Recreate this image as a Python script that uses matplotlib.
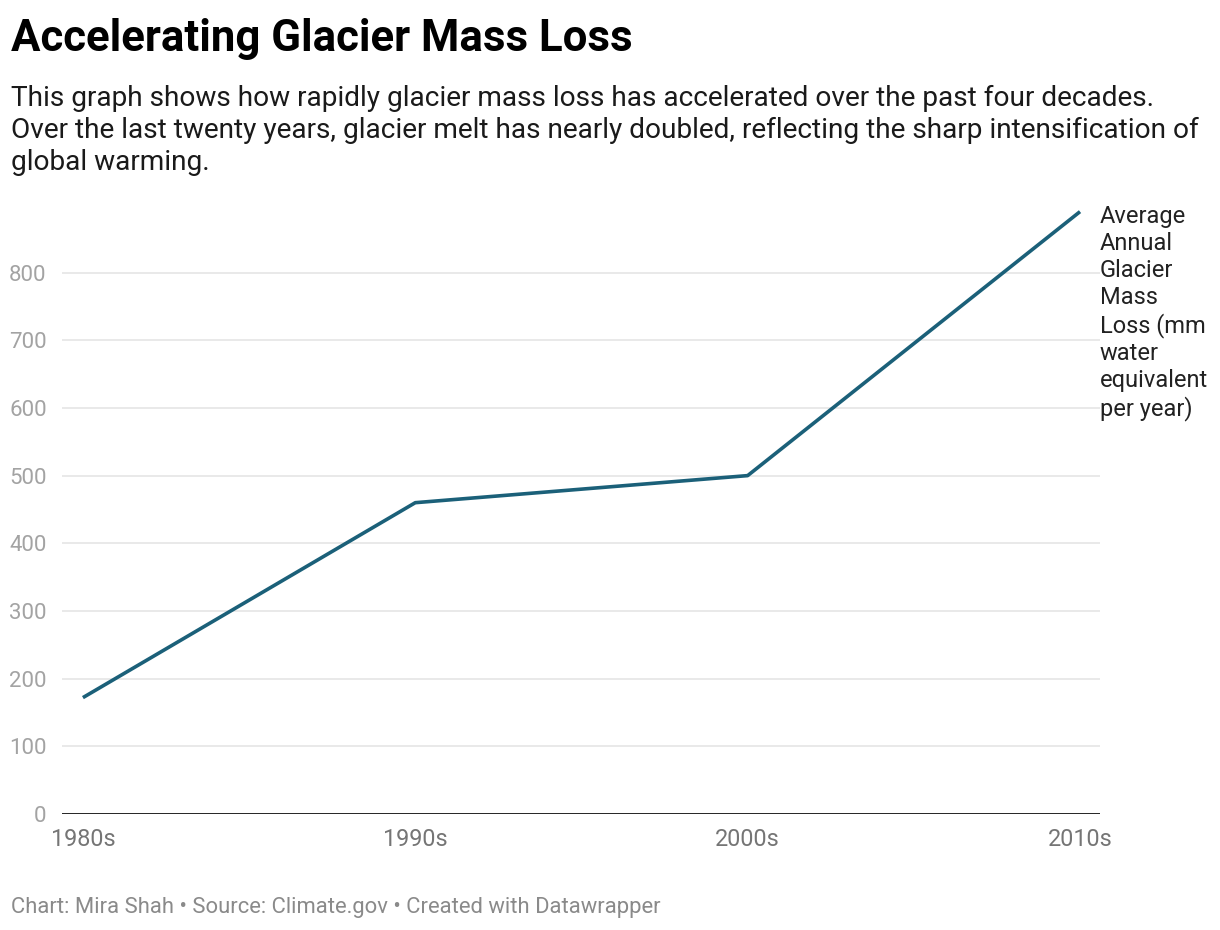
import matplotlib.pyplot as plt

plt.rcParams['font.family'] = ['Roboto', 'DejaVu Sans']

decades = ["1980s", "1990s", "2000s", "2010s"]
mass_loss = [172, 460, 500, 890]
y_ticks = [0, 100, 200, 300, 400, 500, 600, 700, 800]

line_color = "#1b6079"

fig = plt.figure(figsize=(12.2, 9.3), dpi=100)
ax = fig.add_axes([0.0508, 0.1247, 0.8508, 0.655])

x = list(range(len(decades)))
ax.plot(x, mass_loss, color=line_color, linewidth=2.6, solid_capstyle='butt', zorder=3)

ax.set_xlim(-0.063, 3.06)
ax.set_ylim(0, 900)
ax.set_yticks(y_ticks)
ax.set_yticklabels([str(v) for v in y_ticks])
ax.set_xticks(x)
ax.set_xticklabels(decades)

for v in y_ticks[1:]:
    ax.axhline(v, color="#e3e3e3", linewidth=1.1, zorder=1)
ax.axhline(0, color="#111111", linewidth=2.0, zorder=2)

for s in ax.spines.values():
    s.set_visible(False)
ax.tick_params(axis='y', length=0, pad=11, labelsize=16, labelcolor="#a3a3a3")
ax.tick_params(axis='x', length=0, pad=10, labelsize=16.8, labelcolor="#757575")

# series label at the right end
ax.text(1.0, 1.0, "Average\nAnnual\nGlacier\nMass\nLoss (mm\nwater\nequivalent\nper year)",
        transform=ax.transAxes, ha='left', va='top', fontsize=17, color="#222222",
        linespacing=1.22)

fig.text(0.009, 0.9585, "Accelerating Glacier Mass Loss", fontsize=31.5, fontweight='bold',
         ha='left', va='center', color="#000000")
fig.text(0.009, 0.909,
         "This graph shows how rapidly glacier mass loss has accelerated over the past four decades.\n"
         "Over the last twenty years, glacier melt has nearly doubled, reflecting the sharp intensification of\n"
         "global warming.",
         fontsize=20.2, ha='left', va='top', color="#1a1a1a", linespacing=1.24)
fig.text(0.009, 0.0245, "Chart: Mira Shah \u2022 Source: Climate.gov \u2022 Created with Datawrapper",
         fontsize=15.8, ha='left', va='center', color="#8a8a8a")

fig.savefig("out.png", dpi=100)
